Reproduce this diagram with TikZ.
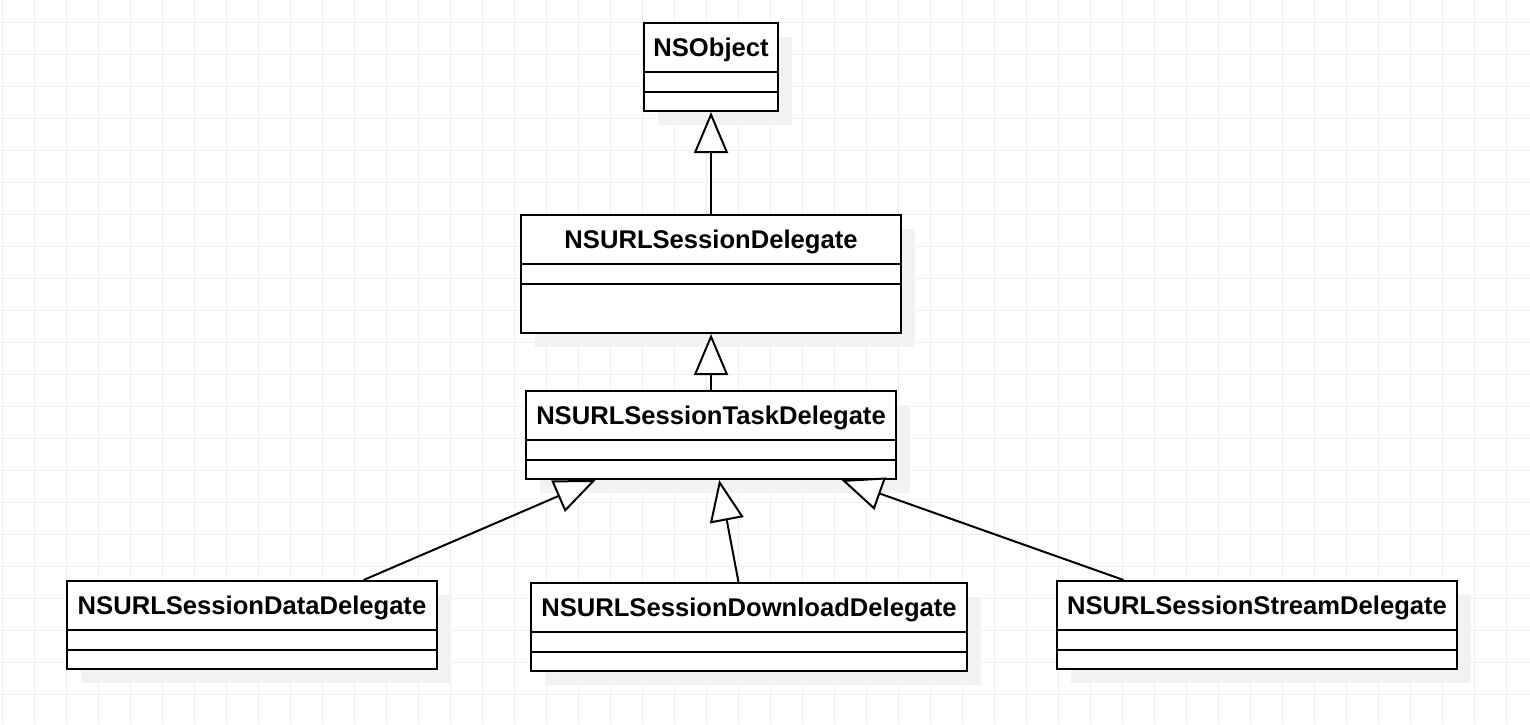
\documentclass[tikz,border=0pt]{standalone}
\usepackage{fontspec}
\setmainfont{Liberation Sans}
\usetikzlibrary{arrows.meta,calc,shadows}

\definecolor{gridgray}{HTML}{EFEFEF}
\definecolor{shadowgray}{HTML}{F2F2F2}

\tikzset{
  classbox/.style={draw, line width=1pt, fill=white, inner sep=0pt, anchor=north west,
    general shadow={fill=shadowgray, draw=none, shadow xshift=7pt, shadow yshift=-7pt}},
  classname/.style={font=\fontsize{12.8}{15}\selectfont\bfseries, inner sep=0pt, anchor=base},
  compart/.style={line width=1pt},
  inherit/.style={line width=1pt, -{Triangle[open, length=20.5pt, width=17pt, fill=white]}},
  gridline/.style={draw=gridgray, line width=0.5pt},
}

% name, top left, width, height, title
\newcommand{\umlclass}[5]{%
  \node[classbox, minimum width=#3*0.5pt, minimum height=#4*0.5pt] (#1) at (#2) {};
  \node[classname] (#1-title) at ($(#1.north)+(0,34)$) {#5};
  \draw[compart] ($(#1.north west)+(0,50)$) -- ($(#1.north east)+(0,50)$);
  \draw[compart] ($(#1.north west)+(0,70)$) -- ($(#1.north east)+(0,70)$);
}

\begin{document}
\begin{tikzpicture}[x=0.5pt, y=-0.5pt]
  \useasboundingbox (0,0) rectangle (1530,724);
  % background grid
  \foreach \gx in {2,34,...,1530} \draw[gridline] (\gx,0) -- (\gx,724);
  \foreach \gy in {22,54,...,724} \draw[gridline] (0,\gy) -- (1530,\gy);

  % classes
  \umlclass{obj}{643,22}{134}{88}{NSObject}
  \umlclass{sess}{520,214}{380}{118}{NSURLSessionDelegate}
  \umlclass{task}{525,390}{370}{88}{NSURLSessionTaskDelegate}
  \umlclass{data}{66,580}{370}{88}{NSURLSessionDataDelegate}
  \umlclass{down}{530,582}{436}{88}{NSURLSessionDownloadDelegate}
  \umlclass{stream}{1056,580}{400}{88}{NSURLSessionStreamDelegate}

  % generalisations
  \draw[inherit] (sess.north) -- (obj.south);
  \draw[inherit] (task.north) -- (sess.south);
  \draw[inherit] ($(data.north west)!0.8!(data.north east)$) -- ($(task.south west)!0.19!(task.south east)$);
  \draw[inherit] ($(down.north west)!0.476!(down.north east)$) -- ($(task.south west)!0.522!(task.south east)$);
  \draw[inherit] ($(stream.north west)!0.168!(stream.north east)$) -- ($(task.south west)!0.851!(task.south east)$);
\end{tikzpicture}
\end{document}
